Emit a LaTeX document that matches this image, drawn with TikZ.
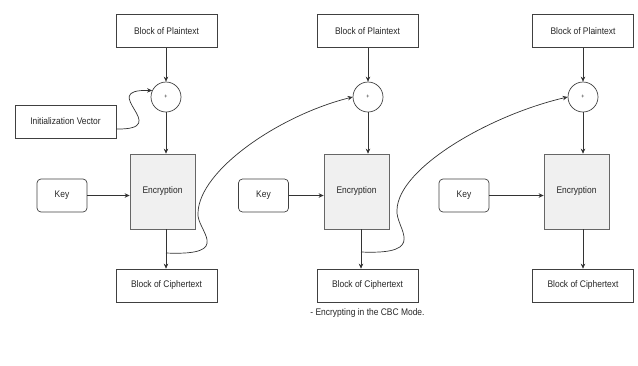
\documentclass[tikz,border=0pt]{standalone}
\usepackage{fontspec}
\setmainfont{Liberation Sans}[FakeStretch=0.88]
\usetikzlibrary{arrows.meta}
\begin{document}
\begin{tikzpicture}[x=1pt,y=-1pt,
  every node/.style={font=\fontsize{9.6}{11}\selectfont, text=black!85},
  blockbox/.style={draw=black!75, line width=0.7pt, minimum width=101pt, minimum height=33pt, inner sep=0pt},
  keybox/.style={draw=black!75, line width=0.7pt, rounded corners=4pt, minimum width=50pt, minimum height=33pt, inner sep=0pt},
  encbox/.style={draw=black!60, fill=black!6, line width=0.7pt, minimum width=65pt, minimum height=75pt, inner sep=0pt},
  xorcirc/.style={draw=black!75, circle, line width=0.7pt, minimum size=30pt, inner sep=0pt, font=\fontsize{6}{7}\selectfont},
  arr/.style={draw=black!80, line width=0.7pt, -{Stealth[length=5pt,width=4.5pt]}},
]
\useasboundingbox (0,0) rectangle (638,365);

% first stage
\node[blockbox] (pt1) at (166.5,31) {Block of Plaintext};
\node[xorcirc] (x1) at (166,97) {+};
\node[blockbox] (iv) at (65.5,121.5) {Initialization Vector};
\node[encbox] (e1) at (162.5,191.5) {Encryption};
\node[keybox] (k1) at (62,195.5) {Key};
\node[blockbox] (ct1) at (166.5,285.5) {Block of Ciphertext};

% second stage
\node[blockbox] (pt2) at (367.5,31) {Block of Plaintext};
\node[xorcirc] (x2) at (368,97) {+};
\node[encbox] (e2) at (356.5,191.5) {Encryption};
\node[keybox] (k2) at (263.5,195.5) {Key};
\node[blockbox] (ct2) at (367.5,285.5) {Block of Ciphertext};

% third stage
\node[blockbox] (pt3) at (583,31) {Block of Plaintext};
\node[xorcirc] (x3) at (583,97) {+};
\node[encbox] (e3) at (576.5,191.5) {Encryption};
\node[keybox] (k3) at (464,195.5) {Key};
\node[blockbox] (ct3) at (583,285.5) {Block of Ciphertext};

\node (cap) at (367.5,313) {- Encrypting in the CBC Mode.};

% output taps of the cipher blocks
\coordinate (o1) at (x1 |- e1.south);
\coordinate (o2) at ([xshift=4.5pt]e2.south);
\coordinate (o3) at (x3 |- e3.south);
\coordinate (f1) at (166,253);
\coordinate (f2) at (361,252);

% vertical flow in each stage
\foreach \i in {1,2,3} {
  \draw[arr] (pt\i.south -| x\i) -- (x\i.north);
  \draw[arr] (x\i.south) -- (x\i |- e\i.north);
  \draw[arr] (k\i.east) -- (k\i.east -| e\i.west);
  \draw[arr] (o\i) -- (o\i |- ct\i.north);
}

% initialization vector into the first XOR
\draw[arr] ([yshift=-7.5pt]iv.east) .. controls (175,130) and (95,89) .. (x1.155);

% ciphertext chained into the next XOR
\draw[arr] (f1) .. controls (235,256) and (196,230) .. (198,213)
  .. controls (199,170) and (280,115) .. (x2.west);
\draw[arr] (f2) .. controls (430,255) and (395,228) .. (397,210)
  .. controls (398,168) and (490,115) .. (x3.west);
\end{tikzpicture}
\end{document}
